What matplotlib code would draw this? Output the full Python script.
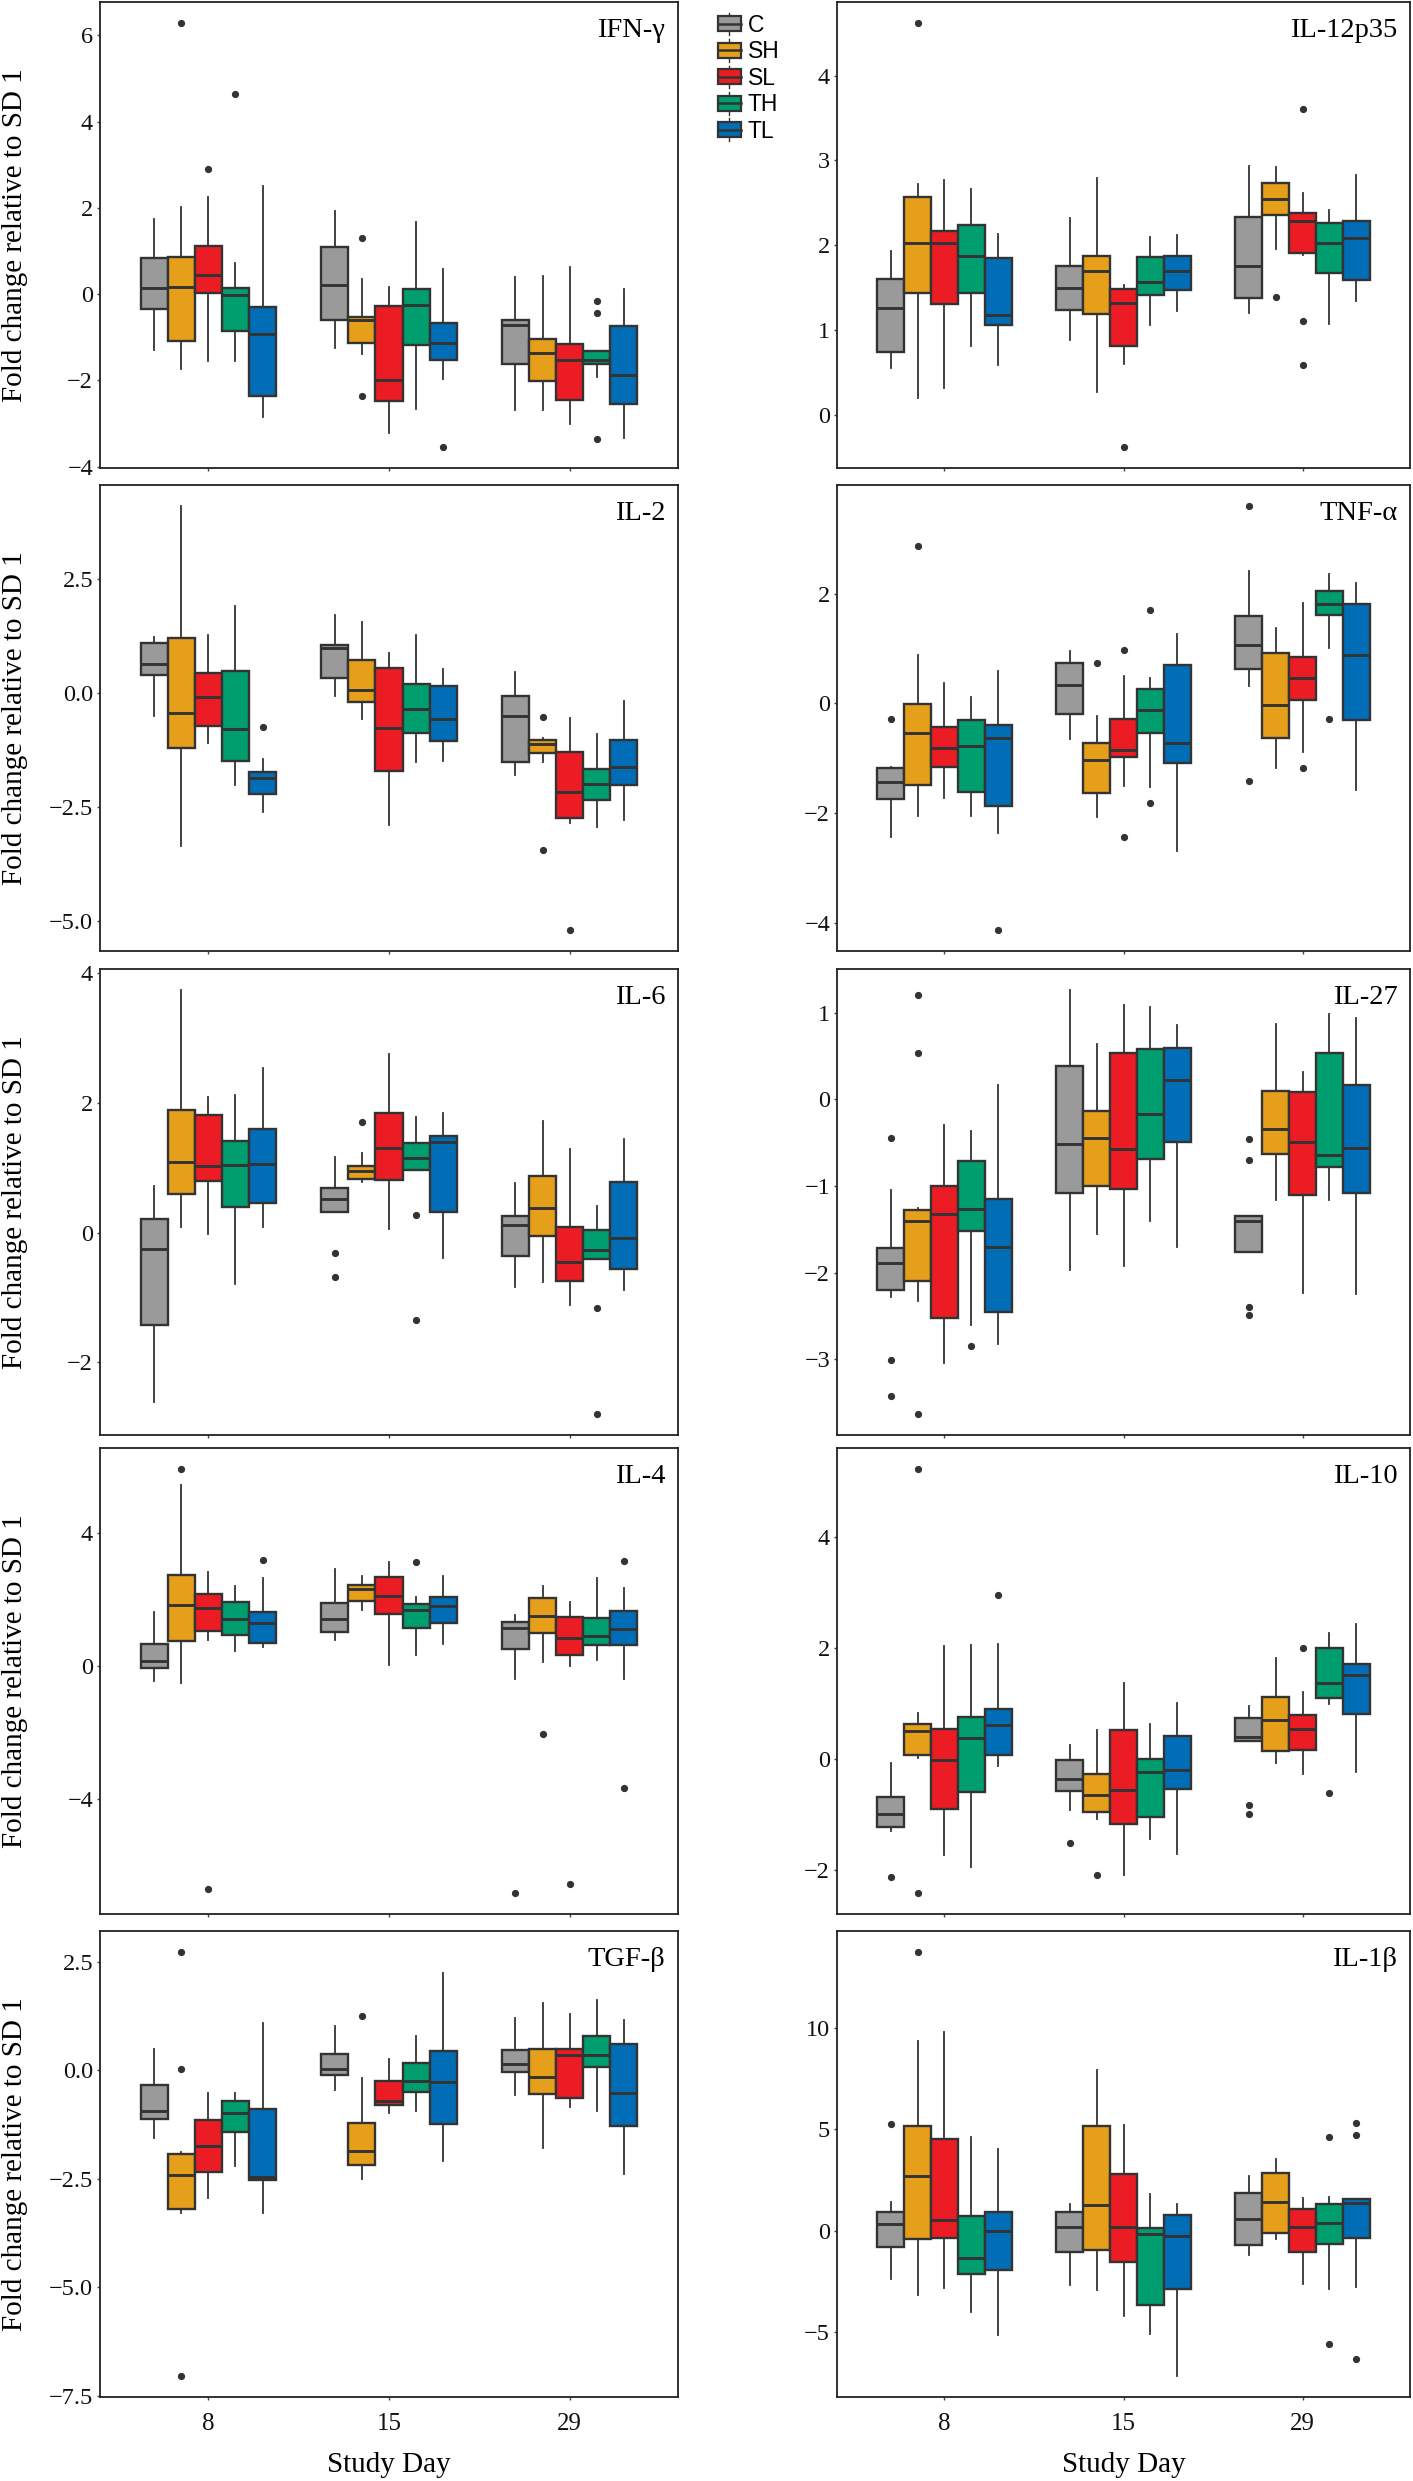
import matplotlib
matplotlib.use("Agg")
import matplotlib.pyplot as plt
from matplotlib.patches import Patch, Rectangle
from matplotlib.lines import Line2D
from matplotlib.legend_handler import HandlerBase

plt.rcParams["font.family"] = ["Liberation Serif", "DejaVu Serif"]
plt.rcParams["axes.unicode_minus"] = True

DAYS = ["8", "15", "29"]
GROUPS = ["C", "SH", "SL", "TH", "TL"]
COLORS = ["#9A9A9A", "#E69F1A", "#EC1C24", "#009E6E", "#006DB6"]

# rows: day 8 (C,SH,SL,TH,TL), day 15 (...), day 29 (...); columns: whislo, q1, median, q3, whishi
IFNG_STATS = [
    [-1.30, -0.35, 0.13, 0.84, 1.74], [-1.74, -1.08, 0.16, 0.87, 2.01], [-1.55, 0.03, 0.44, 1.11, 2.26],
    [-1.55, -0.86, -0.01, 0.13, 0.73], [-2.85, -2.36, -0.93, -0.30, 2.51],
    [-1.26, -0.60, 0.22, 1.10, 1.92], [-1.38, -1.14, -0.61, -0.53, 0.36], [-3.23, -2.47, -2.00, -0.27, 0.16],
    [-2.67, -1.19, -0.26, 0.12, 1.68], [-1.96, -1.52, -1.14, -0.68, 0.58],
    [-2.69, -1.63, -0.72, -0.59, 0.39], [-2.68, -2.01, -1.37, -1.05, 0.42], [-3.02, -2.46, -1.53, -1.15, 0.63],
    [-1.93, -1.61, -1.52, -1.32, -1.32], [-3.33, -2.55, -1.87, -0.73, 0.12]]
IFNG_FLIERS = [[], [6.28], [2.89], [4.63], [],
               [], [1.31, -2.37], [], [], [-3.54],
               [], [], [], [-0.17, -0.43, -3.36], []]
IFNG_TICKS = [-4, -2, 0, 2, 4, 6]

IL12_STATS = [
    [0.55, 0.74, 1.26, 1.60, 1.93], [0.20, 1.43, 2.03, 2.57, 2.72], [0.31, 1.30, 2.03, 2.17, 2.77],
    [0.81, 1.44, 1.87, 2.24, 2.66], [0.59, 1.06, 1.17, 1.85, 2.13],
    [0.88, 1.24, 1.50, 1.75, 2.32], [0.27, 1.19, 1.70, 1.87, 2.79], [0.60, 0.81, 1.32, 1.48, 1.53],
    [1.06, 1.41, 1.57, 1.86, 2.10], [1.22, 1.47, 1.69, 1.87, 2.12],
    [1.20, 1.38, 1.76, 2.33, 2.94], [1.95, 2.36, 2.55, 2.73, 2.92], [1.88, 1.91, 2.29, 2.38, 2.61],
    [1.07, 1.67, 2.03, 2.26, 2.41], [1.34, 1.59, 2.09, 2.28, 2.83]]
IL12_FLIERS = [[], [4.62], [], [], [],
               [], [], [-0.38], [], [],
               [], [1.39], [3.61, 1.11, 0.58], [], []]
IL12_TICKS = [0, 1, 2, 3, 4]

IL2_STATS = [
    [-0.50, 0.40, 0.63, 1.09, 1.24], [-3.35, -1.20, -0.43, 1.20, 4.10], [-1.10, -0.72, -0.09, 0.44, 1.28],
    [-2.02, -1.49, -0.79, 0.48, 1.92], [-2.60, -2.21, -1.86, -1.74, -1.45],
    [-0.07, 0.34, 0.98, 1.06, 1.71], [-0.57, -0.19, 0.07, 0.73, 1.56], [-2.90, -1.71, -0.76, 0.55, 0.89],
    [-1.52, -0.87, -0.34, 0.19, 1.27], [-1.49, -1.06, -0.57, 0.16, 0.54],
    [-1.79, -1.50, -0.50, -0.07, 0.47], [-1.50, -1.32, -1.11, -1.03, -0.98], [-2.84, -2.74, -2.16, -1.30, -0.54],
    [-2.94, -2.35, -1.99, -1.66, -0.89], [-2.78, -2.01, -1.61, -1.03, -0.18]]
IL2_FLIERS = [[], [], [], [], [-0.74],
              [], [], [], [], [],
              [], [-0.52, -3.44], [-5.19], [], []]
IL2_TICKS = [-5.0, -2.5, 0.0, 2.5]

TNFA_STATS = [
    [-2.44, -1.74, -1.43, -1.18, -1.16], [-2.05, -1.48, -0.54, -0.01, 0.88], [-1.73, -1.16, -0.82, -0.43, 0.38],
    [-2.05, -1.62, -0.77, -0.30, 0.11], [-2.36, -1.87, -0.63, -0.40, 0.59],
    [-0.64, -0.20, 0.34, 0.73, 0.95], [-2.08, -1.63, -1.04, -0.73, -0.22], [-1.50, -0.98, -0.84, -0.29, 0.51],
    [-1.53, -0.53, -0.12, 0.27, 0.46], [-2.70, -1.09, -0.72, 0.70, 1.26],
    [0.32, 0.62, 1.06, 1.60, 2.42], [-1.18, -0.63, -0.03, 0.92, 1.38], [-0.89, 0.06, 0.47, 0.84, 1.84],
    [1.01, 1.61, 1.82, 2.05, 2.36], [-1.57, -0.31, 0.89, 1.81, 2.20]]
TNFA_FLIERS = [[-0.28], [2.87], [], [], [-4.13],
               [], [0.74], [0.97, -2.44], [1.71, -1.82], [],
               [3.60, -1.42], [], [-1.18], [-0.28], []]
TNFA_TICKS = [-4, -2, 0, 2]

IL6_STATS = [
    [-2.61, -1.43, -0.26, 0.21, 0.72], [0.09, 0.59, 1.08, 1.88, 3.73], [-0.03, 0.80, 1.03, 1.81, 2.09],
    [-0.79, 0.40, 1.04, 1.41, 2.11], [0.08, 0.45, 1.06, 1.60, 2.53],
    [0.32, 0.32, 0.51, 0.69, 1.17], [0.78, 0.82, 0.94, 1.02, 1.23], [0.05, 0.81, 1.30, 1.84, 2.75],
    [0.96, 0.96, 1.14, 1.38, 1.78], [-0.39, 0.31, 1.40, 1.49, 1.84],
    [-0.84, -0.36, 0.12, 0.26, 0.76], [-0.76, -0.06, 0.37, 0.87, 1.71], [-1.11, -0.75, -0.46, 0.08, 1.28],
    [-0.40, -0.40, -0.27, 0.04, 0.41], [-0.89, -0.56, -0.09, 0.78, 1.44]]
IL6_FLIERS = [[], [], [], [], [],
              [-0.31, -0.69], [1.70], [], [0.27, -1.34], [],
              [], [], [], [-1.16, -2.79], []]
IL6_TICKS = [-2, 0, 2, 4]

IL27_STATS = [
    [-2.28, -2.20, -1.89, -1.72, -1.05], [-2.33, -2.10, -1.40, -1.28, -1.26], [-3.04, -2.52, -1.32, -1.00, -0.30],
    [-2.60, -1.52, -1.27, -0.71, -0.36], [-2.82, -2.45, -1.70, -1.15, 0.16],
    [-1.97, -1.08, -0.51, 0.39, 1.26], [-1.56, -1.00, -0.45, -0.14, 0.64], [-1.92, -1.03, -0.57, 0.53, 1.09],
    [-1.40, -0.69, -0.17, 0.58, 1.07], [-1.71, -0.49, 0.22, 0.59, 0.86],
    [-1.76, -1.76, -1.40, -1.35, -1.35], [-1.16, -0.63, -0.34, 0.10, 0.87], [-2.23, -1.10, -0.49, 0.09, 0.32],
    [-1.16, -0.78, -0.64, 0.53, 0.98], [-2.25, -1.08, -0.56, 0.17, 0.94]]
IL27_FLIERS = [[-0.45, -3.01, -3.43], [1.21, 0.54, -3.63], [], [-2.85], [],
               [], [], [], [], [],
               [-0.46, -0.70, -2.40, -2.49], [], [], [], []]
IL27_TICKS = [-3, -2, -1, 0, 1]

IL4_STATS = [
    [-0.46, -0.07, 0.16, 0.66, 1.63], [-0.51, 0.74, 1.83, 2.74, 5.45], [0.78, 1.04, 1.75, 2.16, 2.84],
    [0.46, 0.93, 1.41, 1.92, 2.40], [0.58, 0.69, 1.28, 1.61, 2.66],
    [0.78, 1.02, 1.40, 1.89, 2.91], [1.68, 1.97, 2.33, 2.43, 2.70], [0.03, 1.57, 2.12, 2.69, 3.13],
    [0.34, 1.15, 1.68, 1.87, 2.09], [0.66, 1.29, 1.82, 2.09, 2.72],
    [-0.38, 0.50, 1.13, 1.33, 1.53], [0.12, 1.00, 1.50, 2.06, 2.42], [0.00, 0.32, 0.84, 1.48, 1.94],
    [0.18, 0.64, 0.90, 1.45, 2.66], [-0.38, 0.64, 1.12, 1.66, 2.34]]
IL4_FLIERS = [[], [5.93], [-6.73], [], [3.19],
              [], [], [], [3.14], [],
              [-6.84], [-2.06], [-6.57], [], [3.17, -3.69]]
IL4_TICKS = [-4, 0, 4]

IL10_STATS = [
    [-1.30, -1.23, -0.99, -0.69, -0.06], [0.03, 0.08, 0.51, 0.64, 0.84], [-1.73, -0.89, -0.01, 0.54, 2.04],
    [-1.94, -0.59, 0.39, 0.76, 2.06], [-0.12, 0.07, 0.62, 0.90, 2.07],
    [-0.91, -0.58, -0.35, -0.02, 0.26], [-1.08, -0.95, -0.65, -0.27, 0.52], [-2.08, -1.17, -0.55, 0.52, 1.38],
    [-1.44, -1.04, -0.24, 0.00, 0.63], [-1.71, -0.54, -0.20, 0.42, 1.02],
    [0.32, 0.32, 0.40, 0.74, 0.96], [-0.06, 0.14, 0.71, 1.12, 1.83], [-0.26, 0.16, 0.55, 0.79, 1.22],
    [1.00, 1.10, 1.37, 2.01, 2.27], [-0.24, 0.82, 1.51, 1.71, 2.43]]
IL10_FLIERS = [[-2.12], [5.23, -2.41], [], [], [2.96],
               [-1.51], [-2.08], [], [], [],
               [-0.83, -0.98], [], [2.00], [-0.61], []]
IL10_TICKS = [-2, 0, 2, 4]

TGFB_STATS = [
    [-1.56, -1.13, -0.93, -0.35, 0.48], [-3.28, -3.20, -2.42, -1.92, -1.88], [-2.95, -2.34, -1.75, -1.15, -0.53],
    [-2.21, -1.42, -0.99, -0.72, -0.52], [-3.28, -2.54, -2.46, -0.90, 1.09],
    [-0.45, -0.11, 0.03, 0.37, 1.01], [-2.50, -2.18, -1.86, -1.21, -0.17], [-0.98, -0.80, -0.70, -0.25, 0.25],
    [-0.95, -0.49, -0.24, 0.16, 0.78], [-2.09, -1.24, -0.28, 0.45, 2.25],
    [-0.56, -0.04, 0.15, 0.47, 1.20], [-1.80, -0.55, -0.16, 0.50, 1.54], [-0.84, -0.65, 0.35, 0.48, 1.30],
    [-0.93, 0.07, 0.35, 0.80, 1.61], [-2.38, -1.28, -0.53, 0.61, 1.16]]
TGFB_FLIERS = [[], [2.72, 0.03, -7.04], [], [], [],
               [], [1.25], [], [], [],
               [], [], [], [], []]
TGFB_TICKS = [-7.5, -5.0, -2.5, 0.0, 2.5]

IL1B_STATS = [
    [-2.38, -0.81, 0.32, 0.94, 1.41], [-3.15, -0.41, 2.70, 5.17, 9.33], [-2.83, -0.36, 0.50, 4.50, 9.77],
    [-4.00, -2.16, -1.33, 0.74, 4.59], [-5.12, -1.95, -0.04, 0.90, 4.02],
    [-2.70, -1.03, 0.18, 0.94, 1.30], [-2.92, -0.97, 1.26, 5.14, 7.93], [-4.18, -1.53, 0.20, 2.77, 5.19],
    [-5.08, -3.64, -0.16, 0.11, 1.80], [-7.15, -2.86, -0.25, 0.79, 1.30],
    [-1.21, -0.72, 0.58, 1.87, 2.68], [-0.43, -0.14, 1.41, 2.86, 3.51], [-2.65, -1.03, 0.18, 1.08, 1.60],
    [-2.88, -0.68, 0.38, 1.33, 1.66], [-2.79, -0.36, 1.35, 1.57, 1.57]]
IL1B_FLIERS = [[5.24], [13.71], [], [], [],
               [], [], [], [], [],
               [], [], [], [4.59, -5.57], [5.28, 4.72, -6.31]]
IL1B_TICKS = [-5, 0, 5, 10]

PANELS = [
    ("IFN-γ", IFNG_STATS, IFNG_FLIERS, IFNG_TICKS),
    ("IL-12p35", IL12_STATS, IL12_FLIERS, IL12_TICKS),
    ("IL-2", IL2_STATS, IL2_FLIERS, IL2_TICKS),
    ("TNF-α", TNFA_STATS, TNFA_FLIERS, TNFA_TICKS),
    ("IL-6", IL6_STATS, IL6_FLIERS, IL6_TICKS),
    ("IL-27", IL27_STATS, IL27_FLIERS, IL27_TICKS),
    ("IL-4", IL4_STATS, IL4_FLIERS, IL4_TICKS),
    ("IL-10", IL10_STATS, IL10_FLIERS, IL10_TICKS),
    ("TGF-β", TGFB_STATS, TGFB_FLIERS, TGFB_TICKS),
    ("IL-1β", IL1B_STATS, IL1B_FLIERS, IL1B_TICKS),
]

W, H = 1413, 2481
fig = plt.figure(figsize=(W / 100, H / 100), dpi=100)
fig.patch.set_facecolor("white")

EDGE = "#333333"
col_x = [(100, 578), (837, 573)]
row_top = [2, 485, 969, 1448, 1931]
PH = 466
BOX_W = 0.15

for idx, (title, stats, fliers, ticks) in enumerate(PANELS):
    r, c = divmod(idx, 2)
    x0, pw = col_x[c]
    ax = fig.add_axes([x0 / W, 1 - (row_top[r] + PH) / H, pw / W, PH / H])
    bstats = []
    positions = []
    for d in range(len(DAYS)):
        for g in range(len(GROUPS)):
            k = d * len(GROUPS) + g
            lo, q1, med, q3, hi = stats[k]
            bstats.append(dict(whislo=lo, q1=q1, med=med, q3=q3, whishi=hi, fliers=fliers[k]))
            positions.append(d + 1 + (g - 2) * BOX_W)
    res = ax.bxp(bstats, positions=positions, widths=BOX_W, patch_artist=True, showcaps=False,
                 boxprops=dict(edgecolor=EDGE, linewidth=1.7),
                 medianprops=dict(color=EDGE, linewidth=2.1),
                 whiskerprops=dict(color=EDGE, linewidth=1.3),
                 flierprops=dict(marker="o", markerfacecolor=EDGE, markeredgecolor=EDGE,
                                 markersize=4.2, linestyle="none"))
    for k, patch in enumerate(res["boxes"]):
        patch.set_facecolor(COLORS[k % len(GROUPS)])
    vals = []
    for b in bstats:
        vals += [b["whislo"], b["whishi"]] + list(b["fliers"])
    lo, hi = min(vals), max(vals)
    pad = 0.05 * (hi - lo)
    ax.set_ylim(lo - pad, hi + pad)
    ax.set_xlim(0.4, 3.6)
    ax.set_yticks(ticks)
    ax.set_xticks([1, 2, 3])
    ax.tick_params(axis="both", length=2.5, width=1, color="#444444", labelsize=17.5,
                   labelcolor="#111111")
    ax.tick_params(axis="y", pad=2.5)
    if r == 4:
        ax.set_xticklabels(DAYS)
        ax.tick_params(axis="x", labelsize=18, pad=9)
        ax.set_xlabel("Study Day", fontsize=21)
        ax.xaxis.set_label_coords(0.5, -0.118)
    else:
        ax.set_xticklabels([])
    for s in ax.spines.values():
        s.set_linewidth(1.3)
        s.set_color("#222222")
    if c == 0:
        ax.set_ylabel("Fold change relative to SD 1", fontsize=21)
        ax.yaxis.set_label_coords(-0.125, 0.5)
    ax.text(0.978, 0.965, title, transform=ax.transAxes, ha="right", va="top", fontsize=20.5)


class BoxHandler(HandlerBase):
    def create_artists(self, legend, orig_handle, xdescent, ydescent, width, height, fontsize, trans):
        fc = orig_handle.get_facecolor()
        x0, y0 = -xdescent, -ydescent
        cx = x0 + width / 2
        wl = Line2D([cx, cx], [y0 - 0.25 * height, y0 + 1.25 * height], color=EDGE, lw=1.0, transform=trans)
        rect = Rectangle((x0, y0), width, height, facecolor=fc, edgecolor=EDGE, lw=1.6, transform=trans)
        med = Line2D([x0, x0 + width], [y0 + height / 2, y0 + height / 2], color=EDGE, lw=1.8,
                     transform=trans)
        return [wl, rect, med]


handles = [Patch(facecolor=col) for col in COLORS]
fig.legend(handles, GROUPS, handler_map={Patch: BoxHandler()}, loc="upper left",
           bbox_to_anchor=(718 / W, 1 - 14 / H), frameon=False,
           prop=dict(family="Liberation Sans", size=16.5),
           handlelength=1.0, handleheight=0.63, labelspacing=0.15, handletextpad=0.3,
           borderpad=0.0, borderaxespad=0.0)

fig.savefig("out.png", dpi=100, facecolor="white")
